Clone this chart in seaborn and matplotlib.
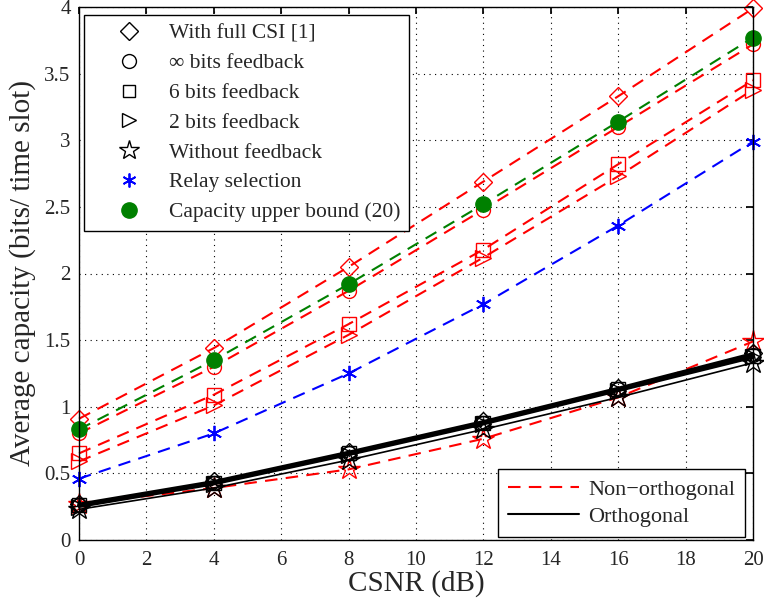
import matplotlib
matplotlib.use("Agg")
import matplotlib.pyplot as plt
from matplotlib.lines import Line2D
import seaborn as sns
import pandas as pd

sns.set_theme(style="white")
plt.rcParams['font.family'] = ['Liberation Serif', 'DejaVu Serif']
plt.rcParams['mathtext.fontset'] = 'stix'

snr = [0, 4, 8, 12, 16, 20]

# Non-orthogonal
no_full_csi = [0.91, 1.44, 2.05, 2.69, 3.33, 3.99]
no_inf_bits = [0.80, 1.30, 1.87, 2.48, 3.10, 3.72]
no_6_bits = [0.65, 1.09, 1.62, 2.18, 2.82, 3.45]
no_2_bits = [0.59, 1.01, 1.54, 2.12, 2.73, 3.38]
no_without = [0.27, 0.39, 0.53, 0.76, 1.07, 1.49]
relay_sel = [0.46, 0.80, 1.25, 1.77, 2.36, 2.99]
upper_bound = [0.83, 1.35, 1.92, 2.52, 3.14, 3.77]

# Orthogonal
o_full_csi = [0.27, 0.44, 0.66, 0.89, 1.14, 1.40]
o_inf_bits = [0.26, 0.43, 0.65, 0.88, 1.13, 1.39]
o_6_bits = [0.26, 0.43, 0.65, 0.88, 1.13, 1.38]
o_2_bits = [0.25, 0.42, 0.64, 0.87, 1.12, 1.37]
o_without = [0.23, 0.39, 0.60, 0.83, 1.07, 1.33]

legend_labels = ["With full CSI [1]", "\u221e bits feedback", "6 bits feedback",
                 "2 bits feedback", "Without feedback", "Relay selection",
                 "Capacity upper bound (20)"]

fig = plt.figure(figsize=(7.64, 6.0), dpi=100)
ax = fig.add_axes([79/764, 60/600, (753-79)/764, (540-7)/600])

asterisk = (6, 2, 0)
dash = (6, 4)

def draw(y, color, ls, marker, ms, lw, mfc='none', mew=1.0, zorder=2):
    df = pd.DataFrame({"snr": snr, "cap": y})
    sns.lineplot(data=df, x="snr", y="cap", ax=ax, color=color, linestyle=ls,
                 linewidth=lw, marker=marker, markersize=ms, markerfacecolor=mfc,
                 markeredgecolor=color, markeredgewidth=mew, zorder=zorder)
    line = ax.get_lines()[-1]
    if ls != '-':
        line.set_dashes(dash)
    line.set_clip_on(False)
    return line

# non-orthogonal
draw(no_full_csi, 'red', '--', 'D', 9, 1.5)
draw(no_inf_bits, 'red', '--', 'o', 10, 1.5)
draw(no_6_bits, 'red', '--', 's', 10, 1.5)
draw(no_2_bits, 'red', '--', '>', 11, 1.5)
draw(no_without, 'red', '--', '*', 16, 1.5)
draw(relay_sel, 'blue', '--', asterisk, 11, 1.5, mew=1.3)
draw(upper_bound, 'green', '--', 'o', 11, 1.5, mfc='green')

# orthogonal
draw(o_full_csi, 'black', '-', 'D', 9, 2.0, zorder=3)
draw(o_inf_bits, 'black', '-', 'o', 10, 2.0, zorder=3)
draw(o_6_bits, 'black', '-', 's', 10, 2.0, zorder=3)
draw(o_2_bits, 'black', '-', '>', 11, 2.0, zorder=3)
draw(o_without, 'black', '-', '*', 16, 1.2, zorder=3)

ax.set_xlim(0, 20)
ax.set_ylim(0, 4)
ax.set_xticks(range(0, 21, 2))
ax.set_yticks([0, 0.5, 1, 1.5, 2, 2.5, 3, 3.5, 4])
ax.set_yticklabels(['0', '0.5', '1', '1.5', '2', '2.5', '3', '3.5', '4'])
ax.grid(True, color='black', linestyle=(0, (1, 4)), linewidth=0.8)
ax.tick_params(direction='in', top=True, right=True, labelsize=15, length=5,
               color='black', pad=6)
ax.tick_params(axis='x', pad=8)
for s in ax.spines.values():
    s.set_color('black')
    s.set_linewidth(1.0)
ax.set_xlabel("CSNR (dB)", fontsize=21, labelpad=0)
ax.set_ylabel("Average capacity (bits/ time slot)", fontsize=21, labelpad=6)

# legend 1: markers
h1 = [
    Line2D([], [], ls='none', marker='D', ms=9, mfc='none', mec='black', mew=1.0),
    Line2D([], [], ls='none', marker='o', ms=10, mfc='none', mec='black', mew=1.0),
    Line2D([], [], ls='none', marker='s', ms=9, mfc='none', mec='black', mew=1.0),
    Line2D([], [], ls='none', marker='>', ms=10, mfc='none', mec='black', mew=1.0),
    Line2D([], [], ls='none', marker='*', ms=15, mfc='none', mec='black', mew=1.0),
    Line2D([], [], ls='none', marker=asterisk, ms=10, mfc='none', mec='blue', mew=1.3),
    Line2D([], [], ls='none', marker='o', ms=11, mfc='green', mec='green'),
]
leg1 = ax.legend(h1, legend_labels, loc='upper left',
                 bbox_to_anchor=((84-79)/674, (540-15)/533),
                 fontsize=15.5, frameon=True, fancybox=False, edgecolor='black',
                 framealpha=1, labelspacing=0.45, handlelength=3.4,
                 handletextpad=0.15, borderpad=0.4, borderaxespad=0)
leg1.get_frame().set_linewidth(1.0)
ax.add_artist(leg1)

h2 = [Line2D([], [], color='red', ls='--', dashes=dash, lw=1.5),
      Line2D([], [], color='black', ls='-', lw=1.5)]
leg2 = ax.legend(h2, ["Non\u2212orthogonal", "Orthogonal"], loc='lower right',
                 bbox_to_anchor=((745-79)/674, 3/533), fontsize=16, frameon=True,
                 fancybox=False, edgecolor='black', framealpha=1,
                 handlelength=3.2, handletextpad=0.4, labelspacing=0.3,
                 borderpad=0.45, borderaxespad=0)
leg2.get_frame().set_linewidth(1.0)

fig.savefig("out.png", dpi=100)
